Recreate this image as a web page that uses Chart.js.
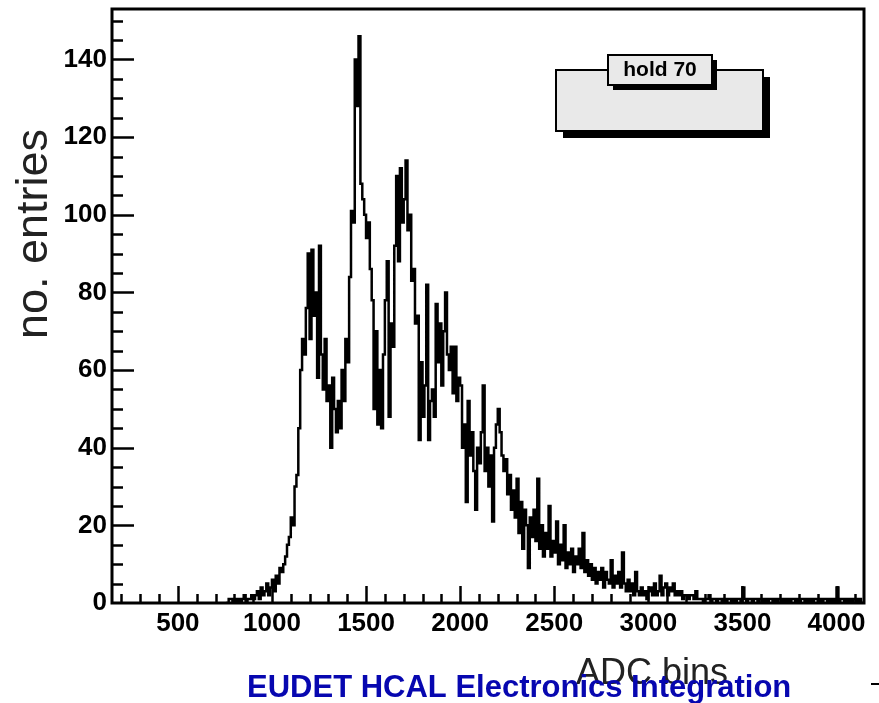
<!DOCTYPE html>
<html>
<head>
<meta charset="utf-8">
<script src="https://cdn.jsdelivr.net/npm/chart.js@4/dist/chart.umd.min.js"></script>
<style>
  html, body { margin: 0; padding: 0; background: #ffffff; }
  #wrap { position: relative; width: 879px; height: 703px; }
</style>
</head>
<body>
<div id="wrap"><canvas id="chart"></canvas></div>
<script>
// histogram binning (ADC units)
const BIN_START = 750;
const BIN_WIDTH = 10;

// counts per 10-ADC bin
const countsOnset = [
  0, 0, 1, 1, 0, 1, 0, 1, 0, 1,
  2, 0, 1, 1, 2, 1, 2, 3, 1, 4,
  2, 3, 5, 2, 4, 6, 3, 7, 5, 9,
  8, 10, 12, 15, 17, 22, 20, 30, 33, 45,
];
const countsPeaks = [
  60, 68, 64, 76, 90, 68, 91, 74, 80, 58,
  92, 64, 55, 68, 52, 56, 40, 58, 50, 44,
  52, 45, 60, 52, 68, 62, 84, 101, 98, 140,
  128, 146, 108, 104, 100, 94, 98, 86, 78, 50,
  70, 46, 60, 45, 64, 78, 88, 48, 72, 66,
  92, 110, 88, 112, 98, 104, 114, 96, 100, 83,
  86, 72, 74, 42, 62, 48, 56, 82, 42, 52,
  55, 48, 77, 62, 72, 56, 70, 80, 64, 60,
  66, 54, 66, 52, 58,
];
const countsShoulder = [
  56, 40, 46, 26, 52, 38, 44, 34, 24, 40,
  36, 44, 56, 34, 40, 30, 38, 21, 40, 46,
  50, 44, 38, 34, 37, 28, 33, 24, 29, 22,
  32, 18, 26, 14, 24, 20, 9, 22, 17, 24,
  16, 32, 14, 20, 12, 18, 14, 25, 12, 16,
];
const countsTail = [
  13, 21, 10, 15, 11, 20, 9, 13, 10, 14,
  8, 12, 10, 14, 9, 18, 8, 11, 7, 10,
  6, 9, 5, 8, 6, 9, 4, 8, 6, 5,
  11, 4, 7, 5, 8, 4, 13, 5, 3, 6,
  3, 5, 2, 8, 3, 2, 4, 2, 3, 1,
  3, 4, 2, 5, 2, 3, 7, 2, 4, 5,
  2, 4, 3, 5, 2, 3, 2, 3, 1, 2,
  2, 1, 2, 2, 1, 3, 1, 1, 1, 0,
  1, 1, 2, 0, 1, 1, 0, 1, 1, 0,
  1, 0, 1, 1, 0, 1, 0, 1, 1, 0,
  4, 1, 0, 1, 1, 0, 1, 1, 0, 1,
  1, 0, 1, 0, 1, 1, 0, 1, 0, 1,
  1, 0, 1, 0, 1, 0, 1, 1, 0, 1,
  0, 1, 1, 0, 1, 0, 1, 0, 1, 1,
  0, 1, 0, 1, 1, 0, 1, 0, 1, 0,
  4, 0, 1, 1, 0, 1, 0, 1, 0, 1,
  1, 0, 1, 0, 0,
];

const xTickLabels = [500, 1000, 1500, 2000, 2500, 3000, 3500, 4000];
const yTickLabels = [0, 20, 40, 60, 80, 100, 120, 140];

const X_MIN = 150;
const X_MAX = 4146;
const Y_MAX = 153;

const counts = [...countsOnset, ...countsPeaks, ...countsShoulder, ...countsTail];
const points = counts.map((c, i) => ({ x: BIN_START + i * BIN_WIDTH + BIN_WIDTH / 2, y: c }));

const TICK_FONT = { family: '"Liberation Sans", Arial, sans-serif', size: 26, weight: 'bold' };

// ROOT style frame with inward ticks
const framePlugin = {
  id: 'rootFrame',
  afterDatasetsDraw(chart) {
    const { ctx, chartArea: a, scales } = chart;
    ctx.save();
    ctx.strokeStyle = '#000';
    ctx.lineWidth = 2.5;
    ctx.beginPath();
    for (let v = 5; v <= Y_MAX; v += 5) {
      const y = Math.round(scales.y.getPixelForValue(v)) + 0.5;
      const len = v % 20 === 0 ? 22 : 11;
      ctx.moveTo(a.left, y);
      ctx.lineTo(a.left + len, y);
    }
    for (let v = 200; v <= 4100; v += 100) {
      const x = Math.round(scales.x.getPixelForValue(v)) + 0.5;
      const len = v % 500 === 0 ? 17 : 9;
      ctx.moveTo(x, a.bottom);
      ctx.lineTo(x, a.bottom - len);
    }
    ctx.stroke();
    ctx.lineWidth = 3;
    ctx.strokeRect(a.left, a.top, a.right - a.left, a.bottom - a.top);
    ctx.restore();
  },
  afterDraw(chart) {
    const { ctx } = chart;
    ctx.save();
    // stats-like legend box
    ctx.fillStyle = '#000';
    ctx.fillRect(563, 77, 207, 61);
    ctx.fillStyle = '#e9e9e9';
    ctx.fillRect(556, 70, 207, 61);
    ctx.lineWidth = 2;
    ctx.strokeStyle = '#000';
    ctx.strokeRect(556, 70, 207, 61);
    ctx.fillStyle = '#000';
    ctx.fillRect(613, 60, 104, 30);
    ctx.fillStyle = '#e9e9e9';
    ctx.fillRect(608, 55, 104, 30);
    ctx.strokeRect(608, 55, 104, 30);
    ctx.fillStyle = '#000';
    ctx.font = 'bold 21px "Liberation Sans", Arial, sans-serif';
    ctx.textAlign = 'center';
    ctx.textBaseline = 'middle';
    ctx.fillText('hold 70', 660, 70);

    // axis titles
    ctx.fillStyle = '#222';
    ctx.font = '36px "Liberation Sans", Arial, sans-serif';
    ctx.textAlign = 'right';
    ctx.textBaseline = 'alphabetic';
    ctx.fillText('ADC bins', 728, 684);

    ctx.save();
    ctx.translate(47, 234);
    ctx.rotate(-Math.PI / 2);
    ctx.font = '45px "Liberation Sans", Arial, sans-serif';
    ctx.textAlign = 'center';
    ctx.fillText('no. entries', 0, 0);
    ctx.restore();

    ctx.fillStyle = '#0707b0';
    ctx.font = 'bold 31px "Liberation Sans", Arial, sans-serif';
    ctx.textAlign = 'left';
    ctx.fillText('EUDET HCAL Electronics Integration', 247, 697);

    ctx.fillStyle = '#000';
    ctx.fillRect(871, 683, 8, 2);
    ctx.restore();
  },
};

new Chart(document.getElementById('chart'), {
  type: 'line',
  data: {
    datasets: [{
      label: 'hold 70',
      data: points,
      borderColor: '#000',
      borderWidth: 2.5,
      stepped: 'middle',
      pointRadius: 0,
      fill: false,
    }],
  },
  options: {
    responsive: true,
    maintainAspectRatio: false,
    animation: false,
    layout: { padding: { top: 9, right: 15, left: 0, bottom: 0 } },
    plugins: {
      legend: { display: false },
      tooltip: { enabled: false },
    },
    scales: {
      x: {
        type: 'linear',
        min: X_MIN,
        max: X_MAX,
        grid: { display: false, drawTicks: false },
        border: { display: false },
        afterBuildTicks: (scale) => { scale.ticks = xTickLabels.map((v) => ({ value: v })); },
        afterFit: (scale) => {
          scale.height = 100;
          scale.paddingLeft = 0;
          scale.paddingRight = 0;
        },
        ticks: {
          font: TICK_FONT,
          color: '#000',
          padding: 5,
          maxRotation: 0,
          autoSkip: false,
          callback: (v) => String(v),
        },
      },
      y: {
        min: 0,
        max: Y_MAX,
        grid: { display: false, drawTicks: false },
        border: { display: false },
        afterBuildTicks: (scale) => { scale.ticks = yTickLabels.map((v) => ({ value: v })); },
        afterFit: (scale) => {
          scale.width = 112;
          scale.paddingTop = 0;
          scale.paddingBottom = 0;
        },
        ticks: { font: TICK_FONT, color: '#000', padding: 5, callback: (v) => String(v) },
      },
    },
  },
  plugins: [framePlugin],
});
</script>
</body>
</html>
